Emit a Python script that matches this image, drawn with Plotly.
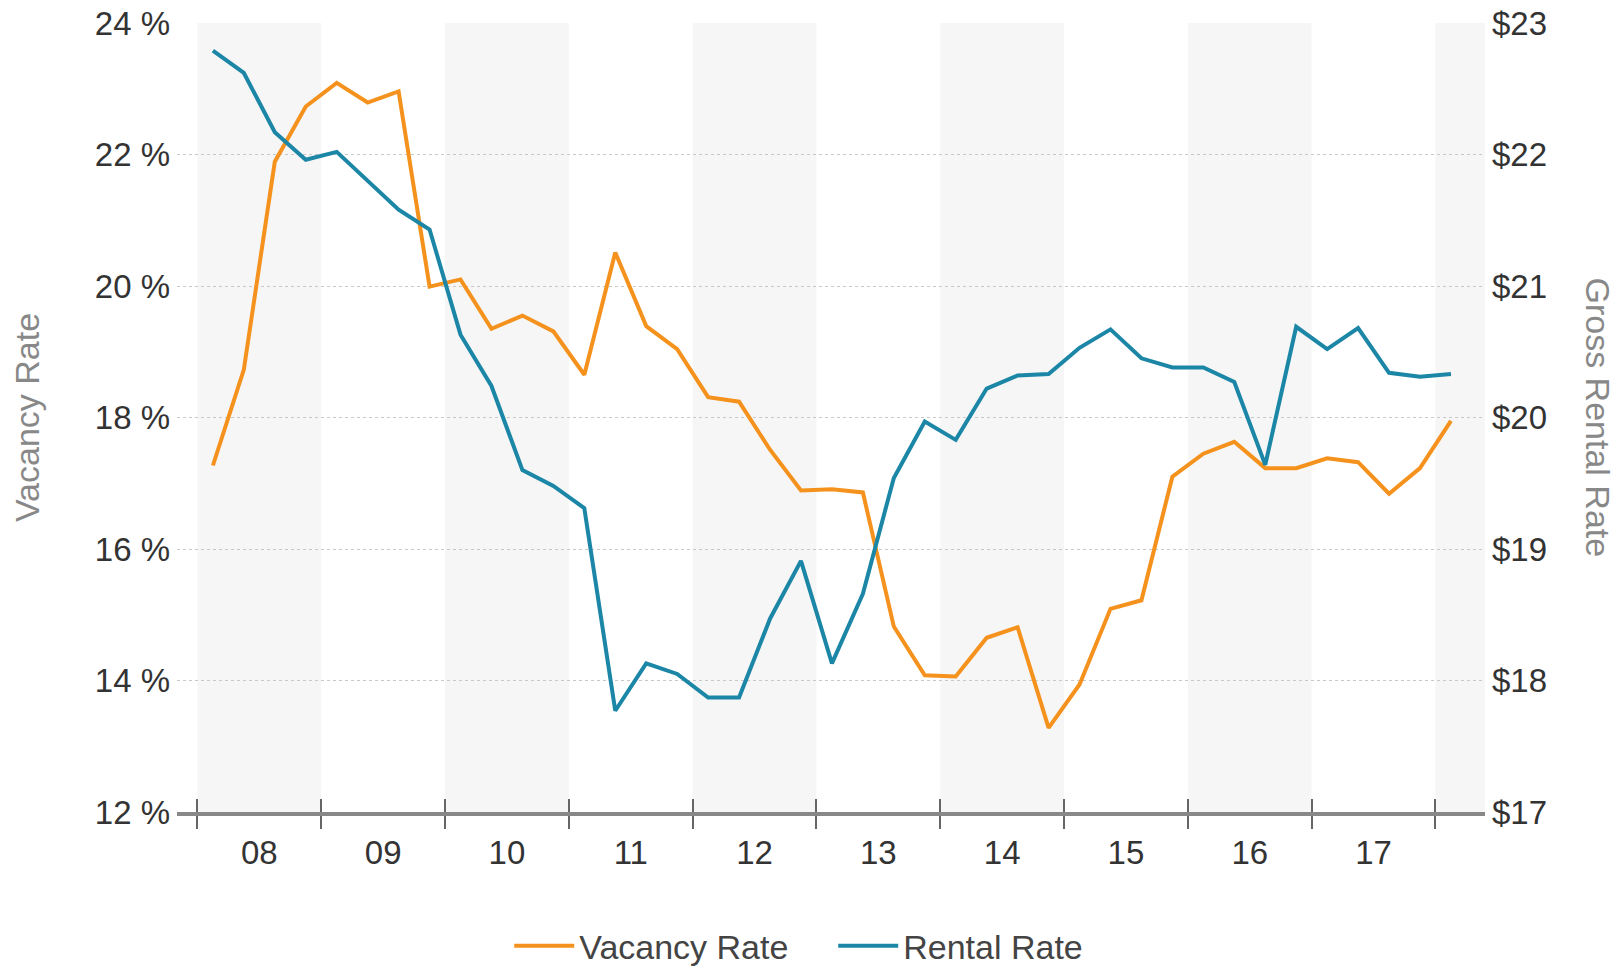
import plotly.graph_objects as go

# ---- data ----
quarters = [f"{y}Q{q}" for y in range(2008, 2018) for q in range(1, 5)] + ["2018Q1"]
vacancy_rate = [
    17.27, 18.73, 21.89, 22.73,
    23.09, 22.79, 22.96, 19.99,
    20.10, 19.35, 19.55, 19.31,
    18.65, 20.51, 19.39, 19.04,
    18.31, 18.24, 17.51, 16.89,
    16.91, 16.86, 14.82, 14.08,
    14.06, 14.65, 14.81, 13.28,
    13.94, 15.09, 15.22, 17.10,
    17.45, 17.63, 17.23, 17.23,
    17.38, 17.32, 16.84, 17.23,
    17.95,
]
rental_rate = [
    22.79, 22.62, 22.17, 21.96,
    22.02, 21.80, 21.58, 21.43,
    20.63, 20.24, 19.60, 19.48,
    19.31, 17.77, 18.13, 18.05,
    17.87, 17.87, 18.47, 18.91,
    18.13, 18.66, 19.54, 19.97,
    19.83, 20.22, 20.32, 20.33,
    20.53, 20.67, 20.45, 20.38,
    20.38, 20.27, 19.64, 20.69,
    20.52, 20.68, 20.34, 20.31,
    20.33,
]
years = list(range(2008, 2019))
year_labels = ["08", "09", "10", "11", "12", "13", "14", "15", "16", "17"]
vac_ticks = [12, 14, 16, 18, 20, 22, 24]
rent_ticks = [17, 18, 19, 20, 21, 22, 23]

# quarter -> fractional year at mid-quarter
x_vals = [int(s[:4]) + (int(s[-1]) - 0.5) / 4 for s in quarters]

ORANGE = "#F5921E"
BLUE = "#1C86A6"
FONT = "Liberation Sans, Arial, sans-serif"
X_RANGE = [2007.835, 2018.4]
TICK_SIZE = 33
TITLE_SIZE = 34

fig = go.Figure()
fig.add_trace(go.Scatter(
    x=x_vals, y=vacancy_rate, name="Vacancy Rate", mode="lines",
    line=dict(color=ORANGE, width=4), xaxis="x", yaxis="y",
))
fig.add_trace(go.Scatter(
    x=x_vals, y=rental_rate, name="Rental Rate", mode="lines",
    line=dict(color=BLUE, width=4), xaxis="x2", yaxis="y2",
))

# alternating year bands
shapes = []
for i, yr in enumerate(years):
    if i % 2 == 0:
        shapes.append(dict(
            type="rect", xref="x", yref="paper", x0=yr, x1=min(yr + 1, X_RANGE[1]),
            y0=0, y1=1, fillcolor="#F6F6F6", line=dict(width=0), layer="below",
        ))

grid = dict(showgrid=True, gridcolor="#C8C8C8", griddash="dot", gridwidth=1)

fig.update_layout(
    width=1616, height=966,
    margin=dict(l=177, r=131, t=23, b=154, autoexpand=False),
    paper_bgcolor="white", plot_bgcolor="white",
    font=dict(family=FONT, size=TICK_SIZE, color="#333333"),
    shapes=shapes,
    showlegend=True,
    legend=dict(orientation="h", x=0.254, xanchor="left", y=-0.17, yanchor="middle",
                font=dict(size=TITLE_SIZE, color="#444444"), itemwidth=60,
                entrywidth=249, tracegroupgap=0),
    xaxis=dict(
        range=X_RANGE, showgrid=False, zeroline=False, automargin=False,
        tickmode="array", tickvals=[y + 0.5 for y in years[:-1]], ticktext=year_labels,
        ticks="outside", ticklen=8, tickcolor="rgba(0,0,0,0)",
        showline=True, linecolor="#888888", linewidth=4,
        tickfont=dict(size=TICK_SIZE, color="#333333"),
        minor=dict(tickmode="array", tickvals=years, ticks="outside",
                   ticklen=13, tickwidth=2, tickcolor="#666666", showgrid=False),
    ),
    xaxis2=dict(
        range=X_RANGE, overlaying="x", anchor="y", side="bottom", automargin=False,
        showgrid=False, zeroline=False, showticklabels=False,
        tickmode="array", tickvals=years, ticks="inside",
        ticklen=13, tickwidth=2, tickcolor="#666666",
    ),
    yaxis=dict(
        range=[12, 24], tickmode="array", tickvals=vac_ticks, automargin=False,
        ticktext=[f"{v} %" for v in vac_ticks], zeroline=False,
        ticks="", ticklabelstandoff=6, ticklabeloverflow="allow",
        tickfont=dict(size=TICK_SIZE, color="#333333"),
        title=dict(text="Vacancy Rate", font=dict(size=TITLE_SIZE, color="#888888"), standoff=44),
        **grid,
    ),
    yaxis2=dict(
        range=[17, 23], overlaying="y", side="right", anchor="x2", automargin=False,
        tickmode="array", tickvals=rent_ticks,
        ticktext=[f"${v}" for v in rent_ticks], zeroline=False,
        showgrid=False, ticks="", ticklabelstandoff=6, ticklabeloverflow="allow",
        tickfont=dict(size=TICK_SIZE, color="#333333"),
    ),
    annotations=[dict(
        text="Gross Rental Rate", textangle=90, xref="paper", yref="paper",
        x=1.0, y=0.5, xshift=134, showarrow=False,
        font=dict(size=TITLE_SIZE, color="#888888"),
    )],
)

fig.write_html("out.html", config={"displayModeBar": False},
               post_script="document.body.style.margin='0';")
